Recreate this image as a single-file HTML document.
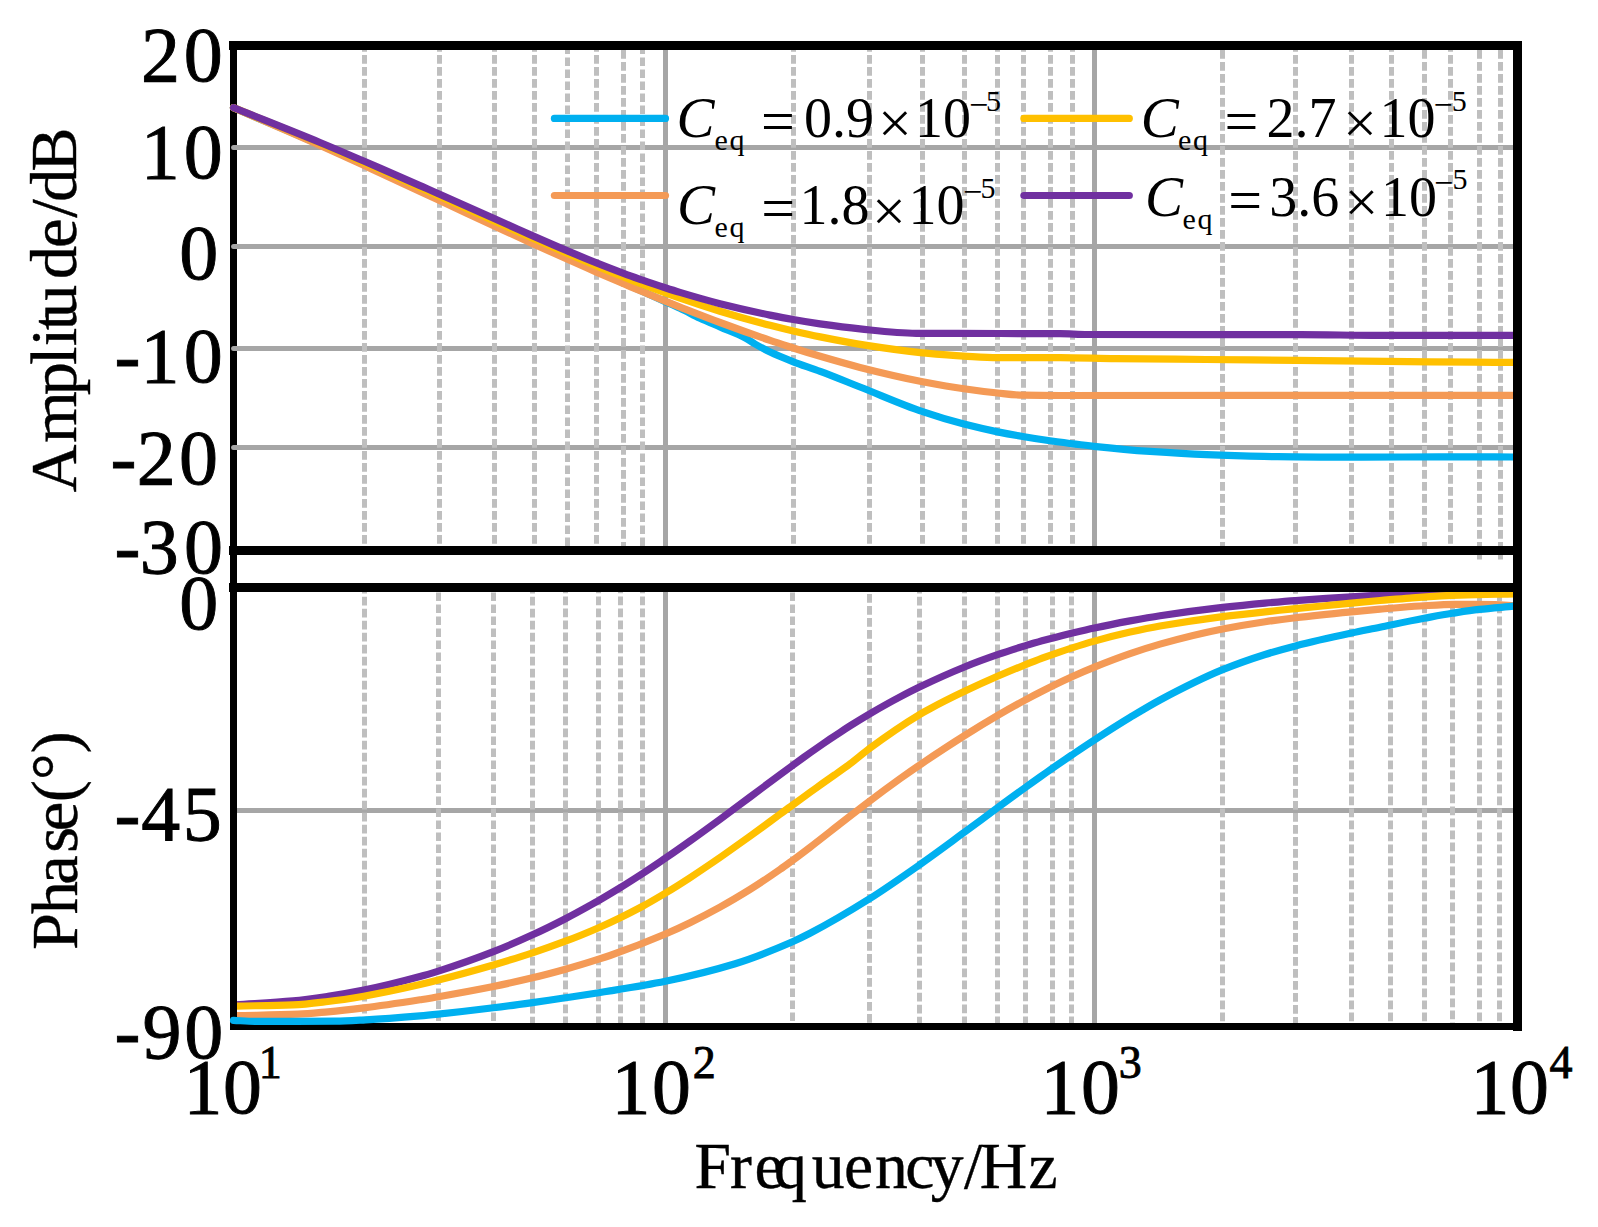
<!DOCTYPE html>
<html lang="en">
<head>
<meta charset="utf-8">
<title>Bode plot: amplitude and phase vs frequency for different Ceq</title>
<style>
html,body{margin:0;padding:0;background:#fff;}
body{width:1598px;height:1227px;overflow:hidden;font-family:"Liberation Serif","Times New Roman",serif;}
svg{display:block;}
text{white-space:pre;}
</style>
</head>
<body>
<svg width="1598" height="1227" viewBox="0 0 1598 1227">
<rect width="1598" height="1227" fill="#fff"/>
<g id="frame-left"><rect x="230" y="41" width="7" height="989" fill="#000"/></g>
<g id="hgrid" stroke="#a6a6a6" stroke-width="5" stroke-linecap="round">
<line x1="233.6" y1="147.5" x2="1515" y2="147.5"/>
<line x1="233.6" y1="246.5" x2="1515" y2="246.5"/>
<line x1="233.6" y1="348.5" x2="1515" y2="348.5"/>
<line x1="233.6" y1="447.5" x2="1515" y2="447.5"/>
</g>
<g id="hgrid-lower" stroke="#a6a6a6" stroke-width="5"><line x1="237" y1="810.5" x2="1515" y2="810.5"/></g>
<g id="vgrid-major" stroke="#a6a6a6" stroke-width="5">
<line x1="665.5" y1="46" x2="665.5" y2="550" /><line x1="665.5" y1="588" x2="665.5" y2="1026"/>
<line x1="1094.5" y1="46" x2="1094.5" y2="550" /><line x1="1094.5" y1="588" x2="1094.5" y2="1026"/>
</g>
<g id="vgrid-minor" stroke="#bfbfbf" stroke-width="5" stroke-dasharray="8.7 3.3">
<line x1="364.5" y1="46" x2="364.5" y2="550" stroke-dashoffset="3"/>
<line x1="439.5" y1="46" x2="439.5" y2="550" stroke-dashoffset="3"/>
<line x1="494.5" y1="46" x2="494.5" y2="550" stroke-dashoffset="3"/>
<line x1="534.5" y1="46" x2="534.5" y2="550" stroke-dashoffset="3"/>
<line x1="567.5" y1="46" x2="567.5" y2="550" stroke-dashoffset="0.6"/>
<line x1="596.5" y1="46" x2="596.5" y2="550" stroke-dashoffset="3"/>
<line x1="623.5" y1="46" x2="623.5" y2="550" stroke-dashoffset="8"/>
<line x1="642.5" y1="46" x2="642.5" y2="550" stroke-dashoffset="0.6"/>
<line x1="793.5" y1="46" x2="793.5" y2="550" stroke-dashoffset="3"/>
<line x1="869.5" y1="46" x2="869.5" y2="550" stroke-dashoffset="3"/>
<line x1="922.5" y1="46" x2="922.5" y2="550" stroke-dashoffset="3"/>
<line x1="964.5" y1="46" x2="964.5" y2="550" stroke-dashoffset="3"/>
<line x1="997.5" y1="46" x2="997.5" y2="550" stroke-dashoffset="3"/>
<line x1="1023.5" y1="46" x2="1023.5" y2="550" stroke-dashoffset="3"/>
<line x1="1050.5" y1="46" x2="1050.5" y2="550" stroke-dashoffset="3"/>
<line x1="1072.5" y1="46" x2="1072.5" y2="550" stroke-dashoffset="3"/>
<line x1="1222.5" y1="46" x2="1222.5" y2="550" stroke-dashoffset="8"/>
<line x1="1295.5" y1="46" x2="1295.5" y2="550" stroke-dashoffset="3"/>
<line x1="1351.5" y1="46" x2="1351.5" y2="550" stroke-dashoffset="3"/>
<line x1="1391.5" y1="46" x2="1391.5" y2="550" stroke-dashoffset="3"/>
<line x1="1424.5" y1="46" x2="1424.5" y2="550" stroke-dashoffset="8"/>
<line x1="1450.5" y1="46" x2="1450.5" y2="550" stroke-dashoffset="3"/>
<line x1="1479.5" y1="46" x2="1479.5" y2="559.5" stroke-dashoffset="8"/>
<line x1="1500.5" y1="46" x2="1500.5" y2="559.5" stroke-dashoffset="8"/>
<line x1="364.5" y1="588" x2="364.5" y2="1026" stroke-dashoffset="3.3"/>
<line x1="438.5" y1="588" x2="438.5" y2="1026" stroke-dashoffset="7.6"/>
<line x1="493.5" y1="588" x2="493.5" y2="1026" stroke-dashoffset="7.6"/>
<line x1="532.5" y1="588" x2="532.5" y2="1026" stroke-dashoffset="3.3"/>
<line x1="565.5" y1="588" x2="565.5" y2="1026" stroke-dashoffset="3.5"/>
<line x1="598.5" y1="588" x2="598.5" y2="1026" stroke-dashoffset="3.5"/>
<line x1="620.5" y1="588" x2="620.5" y2="1026" stroke-dashoffset="3.5"/>
<line x1="642.5" y1="588" x2="642.5" y2="1026" stroke-dashoffset="3.5"/>
<line x1="792.5" y1="588" x2="792.5" y2="1026" stroke-dashoffset="7.6"/>
<line x1="869.5" y1="588" x2="869.5" y2="1026" stroke-dashoffset="6"/>
<line x1="919.5" y1="588" x2="919.5" y2="1026" stroke-dashoffset="3.3"/>
<line x1="964.5" y1="588" x2="964.5" y2="1026" stroke-dashoffset="3.5"/>
<line x1="997.5" y1="588" x2="997.5" y2="1026" stroke-dashoffset="3.5"/>
<line x1="1025.5" y1="588" x2="1025.5" y2="1026" stroke-dashoffset="3.5"/>
<line x1="1052.5" y1="588" x2="1052.5" y2="1026" stroke-dashoffset="3.5"/>
<line x1="1071.5" y1="588" x2="1071.5" y2="1026" stroke-dashoffset="3.5"/>
<line x1="1222.5" y1="588" x2="1222.5" y2="1026" stroke-dashoffset="7.5"/>
<line x1="1295.5" y1="588" x2="1295.5" y2="1026" stroke-dashoffset="3"/>
<line x1="1351.5" y1="588" x2="1351.5" y2="1026" stroke-dashoffset="7.5"/>
<line x1="1390.5" y1="588" x2="1390.5" y2="1026" stroke-dashoffset="7.5"/>
<line x1="1424.5" y1="588" x2="1424.5" y2="1026" stroke-dashoffset="7.5"/>
<line x1="1452.5" y1="588" x2="1452.5" y2="1026" stroke-dashoffset="9.5"/>
<line x1="1479.5" y1="588" x2="1479.5" y2="1026" stroke-dashoffset="7.5"/>
<line x1="1499.5" y1="588" x2="1499.5" y2="1026" stroke-dashoffset="7.5"/>
</g>
<g id="curves-upper" fill="none" stroke-width="7.2" stroke-linecap="round" stroke-linejoin="round">
<path stroke="#00b0f0" d="M233.5,107.7 C262.3,120.1 291.2,132.1 320,144.8 C334.8,151.3 349.5,158.1 364.3,164.8 C382.9,173.2 401.4,181.7 420,190.1 C426.5,193.1 433.1,196.1 439.6,199.1 C458,207.5 476.3,215.9 494.7,224.3 C506.5,229.7 518.2,235.1 530,240.5 C542.5,246.2 555,251.9 567.5,257.6 C577.2,262 586.8,266.3 596.5,270.7 C605.5,274.8 614.6,278.9 623.6,283 C629.9,285.8 636.3,288.7 642.6,291.5 C650.1,294.9 657.7,298.2 665.2,301.6 C670.1,303.8 675.1,305.8 680,308.2 C686.7,311.3 693.3,315.1 700,318.2 C706.7,321.3 713.3,324 720,326.9 C728.3,330.6 736.7,333.4 745,337.8 C748.3,339.5 751.7,342.1 755,344 C760,346.9 765.1,349.7 770.1,352.1 C777.8,355.8 785.6,358.8 793.3,361.8 C802.3,365.2 811.2,368 820.2,371.4 C833.5,376.3 846.7,381.8 860,387 C880.9,395.2 901.7,404.6 922.6,411.6 C936.4,416.3 950.1,420.5 963.9,424.1 C975.2,427 986.4,429.6 997.7,431.9 C1006,433.6 1014.4,435.1 1022.7,436.5 C1031.8,438.1 1040.9,439.5 1050,440.8 C1064.6,442.8 1079.2,444.8 1093.8,446.3 C1112.5,448.3 1131.3,450.1 1150,451.4 C1168.8,452.7 1187.6,453.9 1206.4,454.6 C1220.9,455.2 1235.5,455.7 1250,456.1 C1259.2,456.3 1268.3,456.5 1277.5,456.7 C1291.9,456.8 1306.3,457.1 1320.7,457.1 C1348.1,457.1 1375.6,457 1403,457 C1426.9,457 1450.7,456.8 1474.6,456.8 C1487.7,456.8 1500.9,456.9 1514,457"/>
<path stroke="#f49a56" d="M233.5,107.7 C262.3,120.3 291.2,132.5 320,145.4 C334.8,152 349.5,158.8 364.3,165.6 C382.9,174.1 401.4,182.8 420,191.4 C426.5,194.5 433.1,197.5 439.6,200.6 C458,209.1 476.3,217.7 494.7,226.2 C506.5,231.6 518.2,237 530,242.4 C542.5,248.1 555,253.7 567.5,259.3 C577.2,263.6 586.8,267.9 596.5,272.1 C605.5,276 614.6,279.9 623.6,283.8 C629.9,286.5 636.3,289.2 642.6,291.8 C650.1,294.9 657.7,298 665.2,301.1 C670.1,303.1 675.1,305.1 680,307.1 C693.3,312.3 706.7,317.6 720,322.5 C736.7,328.7 753.4,334.7 770.1,340.4 C777.8,343 785.6,345.5 793.3,348 C802.3,350.9 811.2,353.7 820.2,356.3 C833.5,360.2 846.7,364 860,367.4 C880.9,372.7 901.7,377.6 922.6,381.7 C936.4,384.3 950.1,386.8 963.9,388.7 C975.2,390.4 986.4,391.8 997.7,393 C1006,393.9 1014.4,395.1 1022.7,395.2 C1035.1,395.4 1047.6,395.5 1060,395.5 C1211.3,395.5 1362.7,395.4 1514,395.4"/>
<path stroke="#ffc000" d="M233.5,107.7 C262.3,119.6 291.2,131 320,143.2 C334.8,149.5 349.5,156 364.3,162.6 C382.9,170.8 401.4,179.1 420,187.5 C444.9,198.6 469.8,210 494.7,221.2 C506.5,226.5 518.2,231.8 530,237 C542.5,242.5 555,248.1 567.5,253.5 C577.2,257.7 586.8,261.8 596.5,265.8 C605.5,269.6 614.6,273.3 623.6,276.9 C629.9,279.5 636.3,282 642.6,284.4 C650.1,287.3 657.7,290.1 665.2,292.8 C670.1,294.6 675.1,296.4 680,298.1 C693.3,302.7 706.7,307.1 720,311.2 C736.7,316.3 753.4,321 770.1,325.3 C777.8,327.3 785.6,329.2 793.3,331 C802.3,333.1 811.2,335.1 820.2,336.9 C835.1,339.9 850.1,342.8 865,345.1 C884.2,348.1 903.4,350.8 922.6,352.8 C936.4,354.1 950.1,355.4 963.9,356.2 C975.2,356.8 986.4,357.7 997.7,357.7 C1018.5,357.7 1039.2,357.6 1060,357.6 C1078.7,357.6 1097.3,358.4 1116,358.6 C1146,359 1176,359.2 1206,359.5 C1236,359.8 1266,360.1 1296,360.4 C1326,360.7 1356,361 1386,361.3 C1415.5,361.6 1445.1,362 1474.6,362.2 C1487.7,362.3 1500.9,362.3 1514,362.4"/>
<path stroke="#7030a0" d="M233.5,107.7 C262.3,119.3 291.2,130.6 320,142.5 C334.8,148.6 349.5,155 364.3,161.3 C382.9,169.3 401.4,177.4 420,185.6 C426.5,188.5 433.1,191.3 439.6,194.3 C458,202.4 476.3,210.6 494.7,218.8 C506.5,224.1 518.2,229.4 530,234.6 C542.5,240.1 555,245.6 567.5,250.9 C577.2,255 586.8,259 596.5,262.9 C605.5,266.5 614.6,270 623.6,273.4 C629.9,275.8 636.3,278 642.6,280.2 C650.1,282.9 657.7,285.4 665.2,287.8 C670.1,289.4 675.1,291 680,292.4 C693.3,296.4 706.7,300.3 720,303.7 C736.7,307.9 753.3,311.7 770,315.1 C777.8,316.7 785.5,318.2 793.3,319.5 C802.2,321.1 811.1,322.6 820,323.9 C833.3,325.8 846.7,327.6 860,328.9 C878.8,330.8 897.5,333.2 916.3,333.3 C944.2,333.4 972.1,333.4 1000,333.5 C1020,333.5 1040,333.5 1060,333.6 C1069.2,333.6 1078.3,334.5 1087.5,334.5 C1158.3,334.6 1229.2,334.5 1300,334.6 C1326.7,334.6 1353.3,335.4 1380,335.4 C1424.7,335.4 1469.3,335.4 1514,335.4"/>
</g>
<g id="curves-lower" fill="none" stroke-width="7.2" stroke-linecap="butt" stroke-linejoin="round">
<path stroke="#7030a0" d="M236,1004.8 C255,1003.5 274,1002.6 293,1000.9 C304.7,999.8 316.3,998.1 328,996.4 C339.9,994.6 351.9,992.5 363.8,990.1 C382.5,986.3 401.3,981.6 420,976.5 C426.1,974.9 432.3,973 438.4,971.1 C456.7,965.2 475.1,958.8 493.4,951.6 C506.4,946.5 519.5,940.8 532.5,934.8 C543.5,929.8 554.4,924.4 565.4,918.7 C573.6,914.5 581.8,910 590,905.4 C592.9,903.9 595.7,902.2 598.6,900.6 C606,896.3 613.3,891.9 620.7,887.4 C628,882.9 635.3,878.2 642.6,873.5 C650.3,868.5 657.9,863.3 665.6,858.1 C673.7,852.5 681.9,846.8 690,841 C700,833.9 710,826.6 720,819.3 C730,811.9 740.1,804.4 750.1,797 C760.1,789.5 770.1,782 780.1,774.6 C784.2,771.6 788.3,768.6 792.4,765.6 C798.3,761.3 804.1,757.1 810,752.9 C816.7,748.2 823.3,743.6 830,739 C833.3,736.8 836.7,734.6 840,732.4 C843.3,730.2 846.7,728 850,725.9 C856.4,721.9 862.9,717.9 869.3,714.1 C879.6,708.1 889.8,702.3 900.1,696.9 C906.7,693.4 913.4,689.9 920,686.8 C934.8,679.7 949.7,673 964.5,667 C975.5,662.5 986.5,658.5 997.5,654.7 C1006.9,651.4 1016.2,648.5 1025.6,645.6 C1032.1,643.7 1038.5,641.8 1045,640 C1053.8,637.6 1062.6,635.4 1071.4,633.2 C1079.1,631.4 1086.7,629.6 1094.4,628 C1106.3,625.4 1118.1,623.1 1130,620.9 C1140,619.1 1150,617.3 1160,615.8 C1180.9,612.6 1201.7,609.8 1222.6,607.4 C1236.8,605.8 1250.9,604.4 1265.1,603.1 C1275.2,602.2 1285.4,601.3 1295.5,600.6 C1314.2,599.2 1332.8,597.9 1351.5,596.8 C1361,596.2 1370.5,595.6 1380,595.1 C1390,594.6 1400,594 1410,593.5 C1426.7,592.6 1443.3,591.7 1460,590.8 C1478,589.8 1496,588.6 1514,587.5"/>
<path stroke="#f49a56" d="M236,1015.7 C256.7,1015.2 277.3,1015 298,1014.2 C308,1013.8 318,1012.7 328,1011.8 C339.9,1010.8 351.9,1009.4 363.8,1007.9 C382.5,1005.6 401.3,1002.7 420,999.8 C426.1,998.8 432.3,997.8 438.4,996.7 C456.7,993.5 475.1,990.2 493.4,986.5 C506.4,983.8 519.5,980.9 532.5,977.8 C543.5,975.2 554.4,972.3 565.4,969.2 C576.5,966.2 587.6,962.8 598.7,959.2 C602.5,958 606.2,956.8 610,955.5 C628.5,949 646.9,941.9 665.4,934 C673.6,930.5 681.8,926.7 690,922.7 C700,917.8 710,912.6 720,907.1 C730,901.6 740.1,895.6 750.1,889.4 C760.1,883.1 770.1,876.4 780.1,869.4 C784.2,866.6 788.2,863.6 792.3,860.6 C798.2,856.3 804.1,851.8 810,847.3 C820,839.7 830,831.7 840,823.9 C849.8,816.4 859.5,808.6 869.3,801.3 C879.6,793.5 889.8,786 900.1,778.6 C907.4,773.4 914.7,768.3 922,763.4 C936.2,753.8 950.3,744.5 964.5,735.6 C975.4,728.8 986.4,722.1 997.3,715.7 C1006.7,710.2 1016.1,704.9 1025.5,699.9 C1030.3,697.3 1035.2,694.7 1040,692.3 C1050.5,687 1060.9,681.9 1071.4,677.1 C1079.1,673.6 1086.7,670.3 1094.4,667.2 C1106.3,662.4 1118.2,657.8 1130.1,653.7 C1140.1,650.2 1150,646.9 1160,644.1 C1180.9,638.3 1201.7,633.1 1222.6,629 C1236.8,626.2 1250.9,623.8 1265.1,621.7 C1275.2,620.2 1285.4,618.9 1295.5,617.7 C1314.2,615.4 1332.8,613.6 1351.5,611.8 C1361,610.9 1370.5,610 1380,609.2 C1393.3,608.1 1406.7,606.8 1420,606 C1431.7,605.3 1443.3,604.3 1455,604.3 C1468.3,604.3 1481.7,604.4 1495,604.6 C1501.3,604.7 1507.7,605.4 1514,605.8"/>
<path stroke="#ffc000" d="M236,1006.1 C255,1005.7 274,1005.6 293,1004.9 C304.7,1004.5 316.3,1002.9 328,1001.5 C339.9,1000.1 351.9,998.2 363.8,996.2 C382.5,993 401.3,988.9 420,984.6 C426.1,983.2 432.3,981.7 438.4,980.1 C456.7,975.4 475.1,970.3 493.4,965 C506.4,961.1 519.5,957.1 532.5,952.8 C543.5,949.2 554.4,945.4 565.4,941.2 C576.5,937.1 587.6,932.5 598.7,927.7 C606,924.5 613.4,921.1 620.7,917.5 C628,914 635.3,910.2 642.6,906.3 C650.3,902.1 657.9,897.6 665.6,893 C673.7,888.2 681.9,883 690,877.7 C696.6,873.4 703.3,868.9 709.9,864.4 C714.3,861.5 718.6,858.4 723,855.4 C732,849 741.1,842.6 750.1,836.1 C760.1,828.9 770.1,821.5 780.1,814.2 C784.2,811.2 788.2,808.2 792.3,805.3 C798.2,801 804.1,796.7 810,792.4 C814,789.5 818,786.7 822,783.8 C826.3,780.8 830.5,777.8 834.8,774.8 C839.9,771.2 844.9,767.7 850,763.9 C856.4,759.1 862.9,753.4 869.3,748.6 C886,736.3 902.8,724.6 919.5,714.6 C923,712.4 926.5,710.5 930,708.7 C941.5,702.5 953,696.8 964.5,691.3 C975.5,686.1 986.5,681.1 997.5,676.3 C1006.9,672.3 1016.2,668.4 1025.6,664.6 C1032.1,662.1 1038.5,659.6 1045,657.2 C1053.8,654 1062.6,650.9 1071.4,648.1 C1079.1,645.6 1086.7,643.2 1094.4,641.1 C1106.3,637.8 1118.2,634.8 1130.1,632.1 C1140.1,629.9 1150,627.8 1160,626 C1180.9,622.4 1201.7,619.3 1222.6,616.6 C1236.8,614.8 1250.9,613.3 1265.1,611.8 C1275.2,610.7 1285.4,609.7 1295.5,608.7 C1314.2,606.8 1332.8,604.9 1351.5,603.1 C1361,602.2 1370.5,601.3 1380,600.5 C1390,599.7 1400,598.8 1410,598.1 C1426.7,596.9 1443.3,595.6 1460,595.1 C1478,594.4 1496,594.2 1514,593.8"/>
</g>
<g id="frame" fill="#000">
<rect x="230" y="583" width="7" height="447"/>
<rect x="229" y="41" width="1293" height="9"/>
<rect x="229" y="546" width="1293" height="9"/>
<rect x="229" y="583" width="1293" height="9"/>
<rect x="230" y="1023" width="1292" height="7"/>
<rect x="1513" y="41" width="9" height="990"/>
</g>
<g id="curve-lower-blue" fill="none" stroke-width="7.2" stroke-linecap="round" stroke-linejoin="round">
<path stroke="#00b0f0" d="M233.5,1020.4 C240.7,1020.7 247.8,1021.3 255,1021.3 C281.7,1021.3 308.3,1021.3 335,1021.2 C345.2,1021.2 355.5,1020.4 365.7,1019.8 C383.8,1018.9 401.9,1017.4 420,1015.8 C426.1,1015.3 432.3,1014.7 438.4,1014.1 C456.7,1012.2 475.1,1010.1 493.4,1007.8 C506.4,1006.2 519.5,1004.4 532.5,1002.6 C543.5,1001 554.4,999.4 565.4,997.8 C576.5,996.1 587.6,994.4 598.7,992.7 C602.5,992.1 606.2,991.5 610,990.9 C628.5,987.9 646.9,985 665.4,981.2 C688.7,976.4 711.9,970.8 735.2,963.7 C754.3,957.9 773.4,950.1 792.5,941.8 C798.3,939.2 804.2,936.3 810,933.3 C829.8,923 849.7,911.2 869.5,898.8 C886.3,888.2 903.2,876.3 920,864.5 C934.8,854.1 949.7,843 964.5,832.2 C975.4,824.1 986.4,816 997.3,807.9 C1006.7,801 1016.1,794.1 1025.5,787.4 C1030.3,783.9 1035.2,780.4 1040,777 C1044.1,774.1 1048.3,771.2 1052.4,768.3 C1058.7,763.9 1065.1,759.6 1071.4,755.3 C1079.1,750.1 1086.7,744.9 1094.4,740 C1106.3,732.2 1118.2,724.6 1130.1,717.4 C1140.1,711.4 1150,705.4 1160,700 C1180.9,688.9 1201.7,678.2 1222.6,669.7 C1236.8,663.9 1250.9,659 1265.1,654.5 C1275.2,651.3 1285.4,648.5 1295.5,645.9 C1314.2,641.1 1332.8,637.1 1351.5,633.1 C1361,631 1370.5,629.2 1380,627.2 C1394.7,624.2 1409.3,621.1 1424,618.3 C1433.3,616.6 1442.7,614.8 1452,613.3 C1461,611.9 1470,610.4 1479,609.4 C1490.7,608 1502.3,607.3 1514,606.2"/>
</g>
<rect x="1513" y="583" width="9" height="60" fill="#000"/>
<g id="legend-lines" stroke-width="7.2" stroke-linecap="round">
<line x1="554.4" y1="118.4" x2="665.5" y2="118.4" stroke="#00b0f0"/>
<line x1="554.4" y1="195.5" x2="665.5" y2="195.5" stroke="#f49a56"/>
<line x1="1023.9" y1="118.4" x2="1129.3" y2="118.4" stroke="#ffc000"/>
<line x1="1023.9" y1="195.5" x2="1129.3" y2="195.5" stroke="#7030a0"/>
</g>
<g id="labels" font-family="'Liberation Serif', 'Times New Roman', serif" fill="#000">
<g id="yticks-upper" stroke="#000" stroke-width="0.9">
<text x="141 183.7" y="80.8" font-size="78">20</text>
<text x="140.7 183.8" y="177.9" font-size="78">10</text>
<text x="179.3" y="278.9" font-size="78">0</text>
<text x="114.5 140.5 183.8" y="382.1" font-size="78">-10</text>
<text x="110.4 136.8 179" y="483.8" font-size="78">-20</text>
<text x="114.4 139.8 184.1" y="572.5" font-size="78">-30</text>
</g>
<g id="yticks-lower" stroke="#000" stroke-width="0.9">
<text x="179.3" y="629.1" font-size="78">0</text>
<text x="114.5 141.2 182.8" y="840" font-size="78">-45</text>
<text x="114.5 142.5 184.3" y="1058" font-size="78">-90</text>
</g>
<g id="xticks" stroke="#000" stroke-width="0.9">
<text x="183.5 223.1" y="1113.3" font-size="77.8">10</text>
<text x="258.8" y="1078.2" font-size="46">1</text>
<text x="611.5 652" y="1113.3" font-size="77.8">10</text>
<text x="692.7" y="1078.1" font-size="46">2</text>
<text x="1040.4 1081.1" y="1113.3" font-size="77.8">10</text>
<text x="1118.8" y="1077.7" font-size="46">3</text>
<text x="1470.5 1510" y="1113.3" font-size="77.8">10</text>
<text x="1549.5" y="1077.9" font-size="46">4</text>
</g>
<g id="axis-titles" stroke="#000" stroke-width="0.4">
<text x="694.4 730 754.5 774 811.8 843.9 875 905.3 930.8 964.1 979.7 1028.6" y="1188.1" font-size="65.6">Frequency/Hz</text>
<text x="-0.6 48.8 96.6 126.9 145.6 161.6 173.8 212.6 243.8 274.1 289.9 320.1" y="0" font-size="66.5" transform="translate(76.2,491.8) rotate(-90) scale(1.0,1)">Amplitude/dB</text>
<text x="-1.9 33.7 63.3 95.2 116.8 145.8 168 194.6" y="0" font-size="66.5" transform="translate(76.5,948) rotate(-90) scale(1.0,1)">Phase(°)</text>
</g>
<g id="legend-text">
<text x="676.5" y="136.7" font-size="57" font-style="italic">C</text>
<text x="714.4 729.5" y="149.7" font-size="30">eq</text>
<text x="761" y="141.2" font-size="60">=</text>
<text x="804" y="136.7" font-size="56">0.9</text>
<text x="878.1" y="143.4" font-size="60">×</text>
<text x="915" y="136.7" font-size="56">10</text>
<text x="968.9" y="115.5" font-size="34">−</text>
<text x="986" y="111.1" font-size="30">5</text>
<text x="677" y="223.8" font-size="57" font-style="italic">C</text>
<text x="714.4 729.5" y="236.8" font-size="30">eq</text>
<text x="761.3" y="228.3" font-size="60">=</text>
<text x="799.4" y="223.8" font-size="56">1.8</text>
<text x="871.9" y="230.6" font-size="60">×</text>
<text x="908.5" y="223.8" font-size="56">10</text>
<text x="962.9" y="202.6" font-size="34">−</text>
<text x="980.5" y="197.8" font-size="30">5</text>
<text x="1140.7" y="136.7" font-size="57" font-style="italic">C</text>
<text x="1178 1192.9" y="149.7" font-size="30">eq</text>
<text x="1224.4" y="141.2" font-size="60">=</text>
<text x="1266.5" y="136.7" font-size="56">2.7</text>
<text x="1343" y="143.4" font-size="60">×</text>
<text x="1379.5" y="136.7" font-size="56">10</text>
<text x="1433.4" y="115.5" font-size="34">−</text>
<text x="1451.7" y="111.1" font-size="30">5</text>
<text x="1144.9" y="215.6" font-size="57" font-style="italic">C</text>
<text x="1182.5 1197.5" y="228.6" font-size="30">eq</text>
<text x="1228.3" y="220.1" font-size="60">=</text>
<text x="1269.3" y="215.6" font-size="56">3.6</text>
<text x="1344.4" y="222.4" font-size="60">×</text>
<text x="1380.9" y="215.6" font-size="56">10</text>
<text x="1434.1" y="194.4" font-size="34">−</text>
<text x="1452.4" y="189.2" font-size="30">5</text>
</g>
</g>
</svg>
</body>
</html>
